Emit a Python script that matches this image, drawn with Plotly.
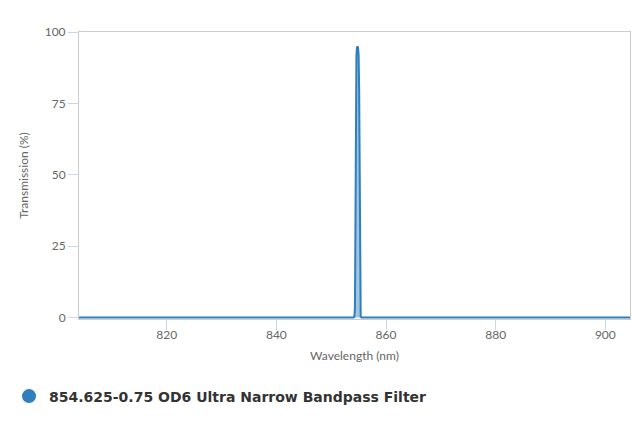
import plotly.graph_objects as go

series_name = "854.625-0.75 OD6 Ultra Narrow Bandpass Filter"
wavelength = [804.0, 830.0, 854.05, 854.22, 854.32, 854.37, 854.42, 854.5, 854.6, 854.7, 854.8,
              854.9, 855.0, 855.1, 855.18, 855.23, 855.28, 855.38, 855.55, 880.0, 904.5]
transmission = [0.0, 0.0, 0.0, 0.3, 3.0, 15.0, 45.0, 80.0, 92.0, 94.5, 95.0,
                94.5, 92.0, 80.0, 45.0, 15.0, 3.0, 0.3, 0.0, 0.0, 0.0]
x_ticks = [820, 840, 860, 880, 900]
y_ticks = [0, 25, 50, 75, 100]

line_color = "#2f7ebd"

fig = go.Figure()
fig.add_trace(go.Scatter(
    x=wavelength, y=transmission, mode="lines", name=series_name,
    line=dict(color=line_color, width=2),
    fill="tozeroy", fillcolor="rgba(47,126,189,0.45)",
    showlegend=False,
))
fig.add_trace(go.Scatter(
    x=[None], y=[None], mode="markers", name=series_name,
    marker=dict(color=line_color, size=14, symbol="circle"),
))

axis_font = dict(family="Lato", size=12, color="#666666")
fig.update_layout(
    width=640, height=427,
    margin=dict(l=71, r=18, t=24, b=116, autoexpand=False),
    paper_bgcolor="white", plot_bgcolor="white",
    xaxis=dict(
        range=[804.0, 904.5], tickvals=x_ticks,
        showgrid=False, zeroline=False,
        showline=True, linecolor="#cccccc", linewidth=1, mirror=True,
        ticks="outside", ticklen=10, tickcolor="#ccd6eb",
        tickfont=axis_font, ticklabelstandoff=-5,
        title=dict(text="Wavelength (nm)", font=axis_font, standoff=10),
    ),
    yaxis=dict(
        range=[-0.5, 100], tickvals=y_ticks,
        showgrid=False, zeroline=False,
        showline=True, linecolor="#cccccc", linewidth=1, mirror=True,
        ticks="outside", ticklen=10, tickcolor="#ccd6eb",
        tickfont=axis_font,
        title=dict(text="Transmission (%)", font=axis_font, standoff=13),
    ),
    legend=dict(
        orientation="h", x=-0.127, xanchor="left", y=-0.27, yanchor="middle",
        font=dict(family="DejaVu Sans", size=14, color="#333333", weight="bold"),
        itemsizing="trace", itemwidth=30,
    ),
)
fig.write_html("out.html")
